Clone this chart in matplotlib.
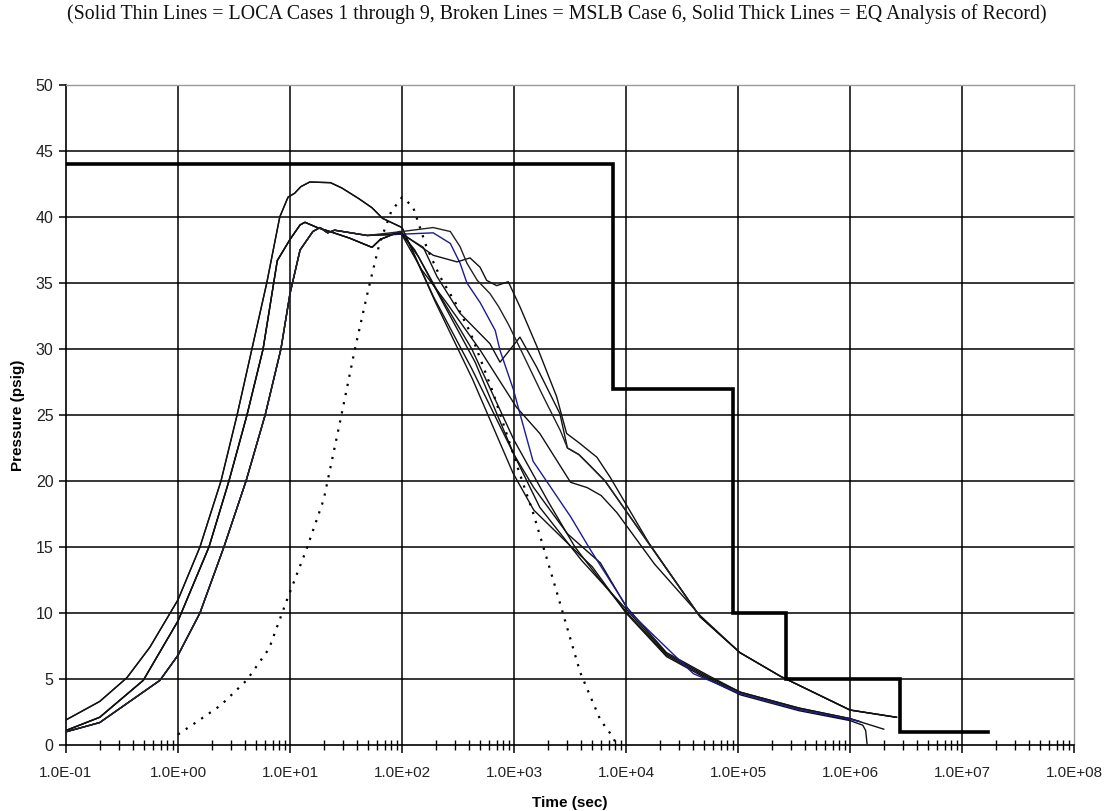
import matplotlib
matplotlib.use("Agg")
import matplotlib.pyplot as plt
from matplotlib.ticker import LogLocator, FixedLocator, NullFormatter

# ---------------- data ----------------
# EQ analysis of record (thick step line)
eq_t = [1.0e-1, 7.6e3, 7.6e3, 9.0e4, 9.0e4, 2.7e5, 2.7e5, 2.8e6, 2.8e6, 1.7e7]
eq_p = [44.0, 44.0, 27.0, 27.0, 10.0, 10.0, 5.0, 5.0, 1.0, 1.0]

# MSLB case 6 (dotted)
mslb_t = [1.0, 1.5, 2.4, 4.1, 6.5, 9.4, 14, 20, 28, 38, 50, 63, 80, 100, 125,
          166, 218, 300, 410, 650, 1100, 1480, 2240, 3900, 5900, 7500, 8300]
mslb_p = [0.8, 1.8, 3.0, 4.9, 7.3, 11.0, 14.8, 18.6, 24.5, 30.0, 34.5, 38.0, 40.4, 41.5, 40.8,
          37.7, 35.5, 33.5, 31.2, 26.7, 20.8, 17.6, 12.5, 5.5, 1.9, 0.7, 0.0]

# LOCA cases (thin solid)
loca1_t = [0.1, 0.2, 0.35, 0.56, 1.0, 1.57, 2.42, 3.37, 4.57, 6.2, 8.1, 9.6, 11, 12.5, 15, 23, 29, 41, 54, 67, 100,
           200, 427, 980, 1500, 3000, 5000, 1.0e4, 2.3e4, 5.6e4, 1.05e5, 3.5e5, 1.0e6, 1.3e6, 1.38e6, 1.42e6]
loca1_p = [1.9, 3.3, 5.1, 7.4, 11.0, 15.0, 20.0, 25.0, 30.0, 35.0, 40.0, 41.5, 41.8, 42.3, 42.65, 42.6, 42.2, 41.4, 40.7, 39.9, 39.2,
           33.5, 27.7, 20.6, 17.8, 15.3, 13.5, 10.0, 6.7, 4.9, 3.8, 2.6, 1.85, 1.5, 1.1, 0.1]

loca2_t = [0.1, 0.2, 0.35, 0.56, 1.0, 1.57, 2.42, 3.37, 4.57, 6.2, 8.1, 9.6, 11, 12.5, 15, 23, 29, 41, 54, 67, 100,
           190, 420, 1000, 1700, 4000, 1.0e4, 2.3e4, 5.6e4, 1.05e5, 3.5e5, 1.0e6, 2.0e6]
loca2_p = [1.9, 3.3, 5.1, 7.4, 11.0, 15.0, 20.0, 25.0, 30.0, 35.0, 40.0, 41.5, 41.8, 42.3, 42.65, 42.6, 42.2, 41.4, 40.7, 39.9, 39.2,
           34.0, 28.5, 22.0, 18.0, 14.0, 10.3, 6.9, 5.1, 4.0, 2.8, 2.0, 1.2]

loca3_t = [0.1, 0.2, 0.49, 1.0, 1.89, 2.85, 4.13, 5.75, 7.7, 10, 12.3, 13.6, 17.5, 22.7, 34, 54, 64, 96,
           130, 220, 420, 1000, 2000, 3500, 5900, 1.0e4, 2.3e4, 5.6e4, 1.05e5, 3.5e5, 1.0e6]
loca3_p = [1.1, 2.1, 4.9, 9.4, 15.0, 20.0, 25.0, 30.0, 36.7, 38.3, 39.4, 39.6, 39.2, 38.9, 38.4, 37.7, 38.3, 38.9,
           37.5, 34.0, 30.0, 23.1, 18.5, 15.0, 12.5, 10.1, 6.8, 5.0, 3.9, 2.7, 1.9]

loca4_t = [0.1, 0.2, 0.49, 1.0, 1.89, 2.85, 4.13, 5.75, 7.7, 10, 12.3, 13.6, 17.5, 22.7, 34, 54, 64, 96,
           140, 250, 450, 1000, 1500, 3000, 5900, 1.0e4, 2.3e4, 5.6e4, 1.05e5, 3.5e5, 1.0e6, 1.2e6]
loca4_p = [1.1, 2.1, 4.9, 9.4, 15.0, 20.0, 25.0, 30.0, 36.7, 38.3, 39.4, 39.6, 39.2, 38.9, 38.4, 37.7, 38.3, 38.9,
           37.0, 33.0, 29.0, 22.0, 19.5, 16.0, 13.8, 10.5, 7.0, 5.2, 4.0, 2.8, 2.0, 1.8]

loca5_t = [0.1, 0.2, 0.49, 1.0, 1.89, 2.85, 4.13, 5.75, 7.7, 10, 12.3, 13.6, 17.5, 22.7, 34, 54, 64, 96,
           150, 250, 500, 1050, 1700, 3200, 4500, 6000, 8300, 1.8e4, 4.6e4, 1.04e5, 2.4e5, 1.0e6, 2.6e6]
loca5_p = [1.1, 2.1, 4.9, 9.4, 15.0, 20.0, 25.0, 30.0, 36.7, 38.3, 39.4, 39.6, 39.2, 38.9, 38.4, 37.7, 38.3, 38.9,
           36.0, 33.5, 29.9, 25.6, 23.6, 19.9, 19.5, 18.9, 17.6, 13.7, 9.8, 7.0, 5.2, 2.65, 2.1]

loca6_t = [0.1, 0.2, 0.69, 1.0, 1.57, 2.57, 4.05, 6.0, 8.3, 10, 12.3, 16, 18.5, 21.7, 25, 49, 100,
           155, 205, 330, 610, 750, 1130, 1600, 2570, 3000, 3800, 4600, 6500, 1.5e4, 4.6e4, 1.04e5, 2.4e5, 1.0e6, 2.6e6]
loca6_p = [1.0, 1.7, 4.9, 6.8, 10.0, 15.0, 20.0, 25.0, 30.0, 34.2, 37.5, 38.9, 39.2, 38.8, 39.0, 38.6, 38.7,
           37.7, 35.5, 32.7, 30.4, 29.0, 30.9, 28.6, 25.1, 22.5, 22.0, 21.3, 20.0, 15.6, 9.7, 7.0, 5.2, 2.65, 2.1]

loca7_t = [0.1, 0.2, 0.69, 1.0, 1.57, 2.57, 4.05, 6.0, 8.3, 10, 12.3, 16, 18.5, 21.7, 25, 49, 100,
           190, 270, 330, 380, 500, 680, 750, 990, 1130, 1480, 3200, 4800, 1.1e4, 4.0e4, 1.05e5, 3.5e5, 1.0e6, 1.25e6]
loca7_p = [1.0, 1.7, 4.9, 6.8, 10.0, 15.0, 20.0, 25.0, 30.0, 34.2, 37.5, 38.9, 39.2, 38.8, 39.0, 38.6, 38.7,
           38.8, 38.0, 36.5, 35.0, 33.5, 31.4, 29.9, 26.9, 25.1, 21.5, 17.3, 14.8, 10.0, 5.4, 3.9, 2.7, 1.95, 1.75]

loca8_t = [0.1, 0.2, 0.69, 1.0, 1.57, 2.57, 4.05, 6.0, 8.3, 10, 12.3, 16, 18.5, 21.7, 25, 49, 100,
           190, 310, 405, 497, 570, 700, 889, 1130, 1600, 2400, 2950, 3800, 5500, 7200, 1.6e4, 4.6e4, 1.04e5, 2.4e5, 1.0e6, 2.6e6]
loca8_p = [1.0, 1.7, 4.9, 6.8, 10.0, 15.0, 20.0, 25.0, 30.0, 34.2, 37.5, 38.9, 39.2, 38.8, 39.0, 38.6, 38.75,
           37.1, 36.6, 36.9, 36.2, 35.2, 34.8, 35.1, 33.2, 30.2, 26.4, 23.6, 22.9, 21.8, 20.3, 15.3, 9.7, 7.0, 5.2, 2.65, 2.1]

loca9_t = [0.1, 0.2, 0.69, 1.0, 1.57, 2.57, 4.05, 6.0, 8.3, 10, 12.3, 16, 18.5, 21.7, 25, 49, 100,
           190, 270, 330, 380, 470, 610, 730, 900, 1250, 1800, 2600, 3000, 3800, 4600, 6500, 1.5e4, 4.6e4]
loca9_p = [1.0, 1.7, 4.9, 6.8, 10.0, 15.0, 20.0, 25.0, 30.0, 34.2, 37.5, 38.9, 39.2, 38.8, 39.0, 38.6, 38.9,
           39.2, 38.9, 37.75, 36.5, 35.2, 34.2, 33.2, 31.8, 29.3, 26.5, 23.8, 22.5, 22.0, 21.3, 20.0, 15.6, 9.7]

loca_t = [loca1_t, loca2_t, loca3_t, loca4_t, loca5_t, loca6_t, loca7_t, loca8_t, loca9_t]
loca_p = [loca1_p, loca2_p, loca3_p, loca4_p, loca5_p, loca6_p, loca7_p, loca8_p, loca9_p]
loca_colors = ["#111111"] * 6 + ["#1c1c8a", "#111111", "#222222"]

x_ticks = [1e-1, 1e0, 1e1, 1e2, 1e3, 1e4, 1e5, 1e6, 1e7, 1e8]
x_labels = ["1.0E-01", "1.0E+00", "1.0E+01", "1.0E+02", "1.0E+03", "1.0E+04",
            "1.0E+05", "1.0E+06", "1.0E+07", "1.0E+08"]
y_ticks = [0, 5, 10, 15, 20, 25, 30, 35, 40, 45, 50]

title = ("(Solid Thin Lines = LOCA Cases 1 through 9, Broken Lines = MSLB Case 6, "
         "Solid Thick Lines = EQ Analysis of Record)")

# ---------------- figure ----------------
fig = plt.figure(figsize=(11.14, 8.11), dpi=100)
ax = fig.add_axes([66 / 1114, 1 - 745 / 811, (1074 - 66) / 1114, (745 - 85) / 811])

ax.set_xscale("log")
ax.set_xlim(1e-1, 1e8)
ax.set_ylim(0, 50)

# grid
for xt in x_ticks[1:-1]:
    ax.axvline(xt, color="black", lw=1.1, zorder=1)
for yt in y_ticks[1:-1]:
    ax.axhline(yt, color="black", lw=1.1, zorder=1)

for t, p, c in zip(loca_t, loca_p, loca_colors):
    ax.plot(t, p, color=c, lw=1.0, zorder=3)

ax.plot(mslb_t, mslb_p, color="black", lw=1.6, linestyle=(0, (1, 3.2)), zorder=3)
ax.plot(eq_t, eq_p, color="black", lw=2.6, zorder=4, solid_joinstyle="miter")

for s in ["top", "right"]:
    ax.spines[s].set_color("#999999")
    ax.spines[s].set_linewidth(1.0)
for s in ["left", "bottom"]:
    ax.spines[s].set_color("black")
    ax.spines[s].set_linewidth(1.2)

ax.xaxis.set_major_locator(FixedLocator(x_ticks))
ax.set_xticklabels(x_labels)
ax.xaxis.set_minor_locator(LogLocator(base=10, subs=range(2, 10), numticks=20))
ax.xaxis.set_minor_formatter(NullFormatter())
ax.set_yticks(y_ticks)

ax.tick_params(axis="x", which="major", direction="out", length=6, width=1.1,
               labelsize=11, pad=9, colors="black")
ax.tick_params(axis="x", which="minor", direction="inout", length=7, width=1.0)
ax.tick_params(axis="y", which="major", direction="out", length=5, width=1.1,
               labelsize=11.5, pad=4)
for lab in ax.get_xticklabels() + ax.get_yticklabels():
    lab.set_family("Liberation Sans")
    lab.set_color("#222222")

ax.set_xlabel("Time (sec)", fontsize=11, fontweight="bold", family="Liberation Sans", labelpad=12)
ax.set_ylabel("Pressure (psig)", fontsize=11, fontweight="bold", family="Liberation Sans", labelpad=8)

fig.text(0.5, 1 - 14 / 811, title, ha="center", va="center", fontsize=14.3,
         family="Liberation Serif", color="#111111")

fig.savefig("out.png", dpi=100)
